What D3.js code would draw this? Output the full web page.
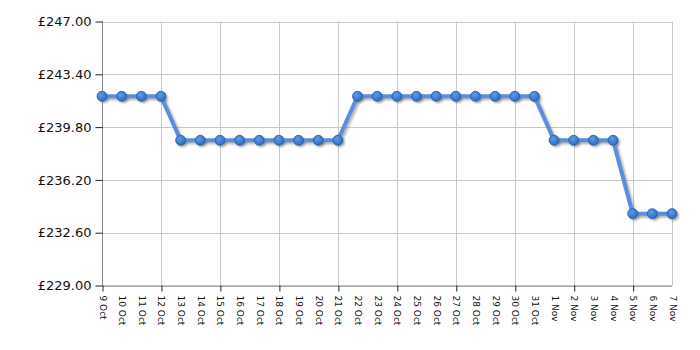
<!DOCTYPE html>
<html><head><meta charset="utf-8">
<script src="https://cdn.jsdelivr.net/npm/d3@7"></script>
<style>body{margin:0;background:#fff}svg{display:block}</style>
</head><body>
<svg id="c" width="700" height="350"></svg>
<script>
const dates = ["9 Oct","10 Oct","11 Oct","12 Oct","13 Oct","14 Oct","15 Oct","16 Oct","17 Oct","18 Oct","19 Oct","20 Oct","21 Oct","22 Oct","23 Oct","24 Oct","25 Oct","26 Oct","27 Oct","28 Oct","29 Oct","30 Oct","31 Oct","1 Nov","2 Nov","3 Nov","4 Nov","5 Nov","6 Nov","7 Nov"];
const prices = [241.9,241.9,241.9,241.9,238.9,238.9,238.9,238.9,238.9,238.9,238.9,238.9,238.9,241.9,241.9,241.9,241.9,241.9,241.9,241.9,241.9,241.9,241.9,238.9,238.9,238.9,238.9,233.9,233.9,233.9];
const yTicks = [229,232.6,236.2,239.8,243.4,247];

const svg = d3.select("#c");
const m = {l:102, r:672, t:21.5, b:285.5};
const x = d3.scalePoint().domain(dates).range([m.l, m.r]);
const y = d3.scaleLinear().domain([229,247]).range([m.b, m.t]);
const font = "DejaVu Sans, Verdana, sans-serif";

const defs = svg.append("defs");
const g1 = defs.append("radialGradient").attr("id","dot").attr("cx","40%").attr("cy","35%").attr("r","65%");
g1.append("stop").attr("offset","0%").attr("stop-color","#5d9be6");
g1.append("stop").attr("offset","100%").attr("stop-color","#2f6bc0");
defs.append("filter").attr("id","blur").append("feGaussianBlur").attr("stdDeviation",1);

// grid
const grid = svg.append("g").attr("stroke","#c8c8c8").attr("stroke-width",1);
yTicks.forEach(t => grid.append("line").attr("x1",m.l).attr("x2",m.r).attr("y1",Math.round(y(t))+0.5).attr("y2",Math.round(y(t))+0.5));
const xTickDates = dates.filter((d,i)=>i%3===0);
xTickDates.forEach(d => grid.append("line").attr("x1",Math.round(x(d))+0.5).attr("x2",Math.round(x(d))+0.5).attr("y1",m.t).attr("y2",m.b));
grid.append("line").attr("x1",m.r+0.5).attr("x2",m.r+0.5).attr("y1",m.t).attr("y2",m.b);

// axes
const yAxis = svg.append("g").attr("transform",`translate(${m.l+0.5},0)`)
  .call(d3.axisLeft(y).tickValues(yTicks).tickSize(7).tickPadding(4).tickFormat(d=>"£"+d.toFixed(2)));
yAxis.selectAll("text").attr("font-family",font).attr("font-size",13).attr("fill","#111");
yAxis.selectAll("line").attr("stroke","#222");
yAxis.select(".domain").attr("stroke","#888").attr("d",`M0,${m.t}V${m.b}`);

const xAxis = svg.append("g").attr("transform",`translate(0,${m.b})`)
  .call(d3.axisBottom(x).tickValues(dates).tickSize(0).tickFormat(d=>d));
xAxis.select(".domain").attr("stroke","#888").attr("d",`M${m.l},0.5H${m.r}`);
xAxis.selectAll(".tick line").remove();
xAxis.selectAll(".tick").filter((d,i)=>i%3===0).append("line").attr("y1",0).attr("y2",6).attr("stroke","#222").attr("x1",0.5).attr("x2",0.5);
xAxis.selectAll("text").attr("font-family",font).attr("font-size",9).attr("fill","#111")
  .attr("text-anchor","start").attr("dy",null).attr("y",null)
  .attr("transform","translate(-3,10) rotate(90)");

// shadow
const line = d3.line().x((d,i)=>x(dates[i])).y(d=>y(d));
svg.append("path").datum(prices).attr("d",line).attr("fill","none").attr("stroke","#777").attr("stroke-opacity",0.55)
  .attr("stroke-width",4).attr("transform","translate(2,2)").attr("filter","url(#blur)");
svg.append("g").selectAll("circle").data(prices).join("circle")
  .attr("cx",(d,i)=>x(dates[i])+2).attr("cy",d=>y(d)+2).attr("r",5).attr("fill","#555").attr("fill-opacity",0.5).attr("filter","url(#blur)");

svg.append("path").datum(prices).attr("d",line).attr("fill","none").attr("stroke","#5b8fdd").attr("stroke-width",4).attr("stroke-linejoin","round");
svg.append("g").selectAll("circle").data(prices).join("circle")
  .attr("cx",(d,i)=>x(dates[i])).attr("cy",d=>y(d)).attr("r",5)
  .attr("fill","url(#dot)").attr("stroke","#2a5aa0").attr("stroke-width",0.8);
</script>
</body></html>
